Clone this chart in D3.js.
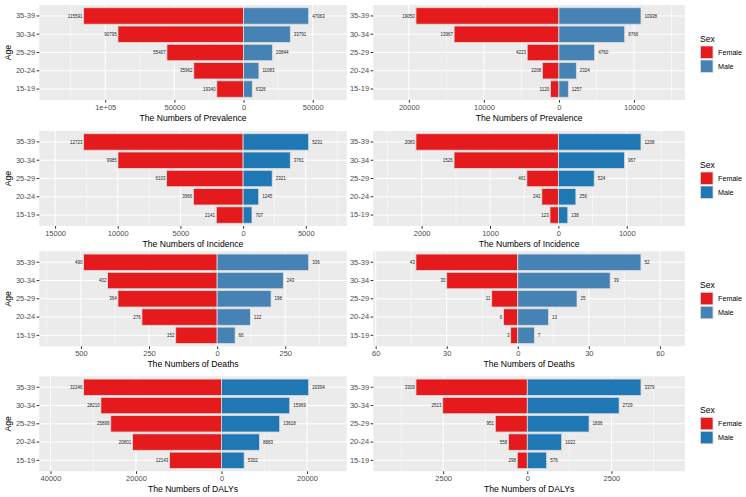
<!DOCTYPE html>
<html>
<head>
<meta charset="utf-8">
<script src="https://cdn.jsdelivr.net/npm/d3@7"></script>
<style>
  html, body { margin: 0; padding: 0; background: #ffffff; }
  svg { display: block; font-family: "Liberation Sans", Arial, sans-serif; }
</style>
</head>
<body>
<svg id="chart" width="746" height="497"></svg>
<script>
// ---------------- DATA ----------------
const ages = ["15-19", "20-24", "25-29", "30-34", "35-39"];
const sexes = ["Female", "Male"];
const measures = ["Prevalence", "Incidence", "Deaths", "DALYs"];

// left column
const prevFemaleL = [19340, 35962, 55407, 90795, 115591];
const prevMaleL   = [6326, 11083, 20844, 33791, 47063];
const incFemaleL  = [2141, 3966, 6103, 9985, 12723];
const incMaleL    = [707, 1245, 2321, 3761, 5231];
const deathFemaleL = [152, 276, 364, 402, 490];
const deathMaleL   = [66, 122, 198, 243, 336];
const dalyFemaleL  = [12143, 20801, 25899, 28210, 32246];
const dalyMaleL    = [5302, 8883, 13618, 15969, 20394];

// right column
const prevFemaleR = [1120, 2208, 4223, 13967, 19050];
const prevMaleR   = [1257, 2324, 4760, 8766, 10938];
const incFemaleR  = [123, 242, 461, 1526, 2083];
const incMaleR    = [138, 256, 524, 967, 1208];
const deathFemaleR = [3, 6, 11, 30, 43];
const deathMaleR   = [7, 13, 25, 39, 52];
const dalyFemaleR  = [298, 558, 951, 2513, 3309];
const dalyMaleR    = [576, 1022, 1836, 2729, 3379];

// axis limits [min, max] (female plotted as negative)
const limitsL = [[-147637, 74551], [-16260, 8265], [-652.7, 475.6], [-42617, 29290]];
const limitsR = [[-24736, 16803], [-2707, 1852], [-61.0, 70.6], [-4577, 4687]];

// tick values and labels
const ticksL = [[-100000, -50000, 0, 50000], [-15000, -10000, -5000, 0, 5000], [-500, -250, 0, 250], [-40000, -20000, 0, 20000]];
const tickLabelsL = [["1e+05", "50000", "0", "50000"], ["15000", "10000", "5000", "0", "5000"], ["500", "250", "0", "250"], ["40000", "20000", "0", "20000"]];
const ticksR = [[-20000, -10000, 0, 10000], [-2000, -1000, 0, 1000], [-60, -30, 0, 30, 60], [-2500, 0, 2500]];
const tickLabelsR = [["20000", "10000", "0", "10000"], ["2000", "1000", "0", "1000"], ["60", "30", "0", "30", "60"], ["2500", "0", "2500"]];

const femaleColor = "#E41A1C";
const maleColors = ["#4682B4", "#1F78B4", "#4682B4", "#1F78B4"];

// ---------------- LAYOUT ----------------
const femaleL = [prevFemaleL, incFemaleL, deathFemaleL, dalyFemaleL];
const maleL = [prevMaleL, incMaleL, deathMaleL, dalyMaleL];
const femaleR = [prevFemaleR, incFemaleR, deathFemaleR, dalyFemaleR];
const maleR = [prevMaleR, incMaleR, deathMaleR, dalyMaleR];

const rowTops = [5, 131, 251.3, 376.3];
const panelH = 95;
const colX = [[39.3, 346.7], [373.3, 685]];
const svg = d3.select("#chart");

function drawPanel(row, col, fem, mal, lim, ticks, tickLabels) {
  const top = rowTops[row];
  const [x0, x1] = colX[col];
  const x = d3.scaleLinear().domain(lim).range([x0, x1]);
  const y = d3.scaleBand().domain(ages.slice().reverse()).range([top, top + panelH])
    .paddingInner(0.1).paddingOuter(0.15);
  const g = svg.append("g");

  g.append("rect").attr("x", x0).attr("y", top).attr("width", x1 - x0).attr("height", panelH).attr("fill", "#EBEBEB");

  // minor grid
  const step = ticks[1] - ticks[0];
  const minor = [];
  const ext = [ticks[0] - step, ...ticks, ticks[ticks.length - 1] + step];
  for (let i = 0; i < ext.length - 1; i++) minor.push((ext[i] + ext[i + 1]) / 2);
  g.selectAll(".minor").data(minor.filter(v => v > lim[0] && v < lim[1])).enter().append("line")
    .attr("x1", d => x(d)).attr("x2", d => x(d)).attr("y1", top).attr("y2", top + panelH)
    .attr("stroke", "#ffffff").attr("stroke-width", 0.5);
  // major grid
  g.selectAll(".majorx").data(ticks).enter().append("line")
    .attr("x1", d => x(d)).attr("x2", d => x(d)).attr("y1", top).attr("y2", top + panelH)
    .attr("stroke", "#ffffff").attr("stroke-width", 1);
  g.selectAll(".majory").data(ages).enter().append("line")
    .attr("x1", x0).attr("x2", x1)
    .attr("y1", d => y(d) + y.bandwidth() / 2).attr("y2", d => y(d) + y.bandwidth() / 2)
    .attr("stroke", "#ffffff").attr("stroke-width", 1);

  const mc = maleColors[row];
  // bars
  g.selectAll(".fbar").data(ages).enter().append("rect")
    .attr("x", (d, i) => x(-fem[i])).attr("y", d => y(d))
    .attr("width", (d, i) => x(0) - x(-fem[i])).attr("height", y.bandwidth())
    .attr("fill", femaleColor).attr("stroke", "#dddddd").attr("stroke-width", 0.8);
  g.selectAll(".mbar").data(ages).enter().append("rect")
    .attr("x", x(0)).attr("y", d => y(d))
    .attr("width", (d, i) => x(mal[i]) - x(0)).attr("height", y.bandwidth())
    .attr("fill", mc).attr("stroke", "#dddddd").attr("stroke-width", 0.8);

  // value labels
  g.selectAll(".flab").data(ages).enter().append("text")
    .attr("x", (d, i) => x(-fem[i]) - 1.2).attr("y", d => y(d) + y.bandwidth() / 2)
    .attr("dy", "0.35em").attr("text-anchor", "end").attr("font-size", 4.5).attr("fill", "#222")
    .text((d, i) => fem[i]);
  g.selectAll(".mlab").data(ages).enter().append("text")
    .attr("x", (d, i) => x(mal[i]) + 3.5).attr("y", d => y(d) + y.bandwidth() / 2)
    .attr("dy", "0.35em").attr("text-anchor", "start").attr("font-size", 4.5).attr("fill", "#222")
    .text((d, i) => mal[i]);

  // x axis
  const xa = g.append("g").attr("transform", `translate(0,${top + panelH})`)
    .call(d3.axisBottom(x).tickValues(ticks).tickSize(2.7).tickPadding(1.5).tickFormat((d, i) => tickLabels[i]));
  xa.select(".domain").remove();
  xa.selectAll("line").attr("stroke", "#333333");
  xa.selectAll("text").attr("fill", "#4D4D4D").attr("font-size", 7.5).attr("font-family", "Liberation Sans, Arial, sans-serif");

  // y axis
  const ya = g.append("g").attr("transform", `translate(${x0},0)`)
    .call(d3.axisLeft(y).tickSize(2.7).tickPadding(1.5));
  ya.select(".domain").remove();
  ya.selectAll("line").attr("stroke", "#333333");
  ya.selectAll("text").attr("fill", "#4D4D4D").attr("font-size", 7.5).attr("font-family", "Liberation Sans, Arial, sans-serif");

  // axis title
  g.append("text").attr("x", (x0 + x1) / 2).attr("y", top + panelH + 21)
    .attr("text-anchor", "middle").attr("font-size", 8.6).attr("fill", "#000")
    .text("The Numbers of " + measures[row]);

  if (col === 0) {
    g.append("text").attr("transform", `translate(11,${top + panelH / 2}) rotate(-90)`)
      .attr("text-anchor", "middle").attr("font-size", 8.6).attr("fill", "#000").text("Age");
  } else {
    // legend
    const lg = svg.append("g").attr("transform", `translate(700,${top + panelH / 2})`);
    lg.append("text").attr("x", 0).attr("y", -10.5).attr("font-size", 8.6).attr("fill", "#000").text("Sex");
    const colors = [femaleColor, mc];
    sexes.forEach((s, i) => {
      lg.append("rect").attr("x", 0.5).attr("y", -6.5 + i * 14).attr("width", 12.5).attr("height", 12.5)
        .attr("fill", colors[i]).attr("stroke", "#dddddd").attr("stroke-width", 0.8);
      lg.append("text").attr("x", 18).attr("y", -6.5 + i * 14 + 6.25).attr("dy", "0.35em")
        .attr("font-size", 7.2).attr("fill", "#000").text(s);
    });
  }
}

for (let r = 0; r < 4; r++) {
  drawPanel(r, 0, femaleL[r], maleL[r], limitsL[r], ticksL[r], tickLabelsL[r]);
  drawPanel(r, 1, femaleR[r], maleR[r], limitsR[r], ticksR[r], tickLabelsR[r]);
}
</script>
</body>
</html>
